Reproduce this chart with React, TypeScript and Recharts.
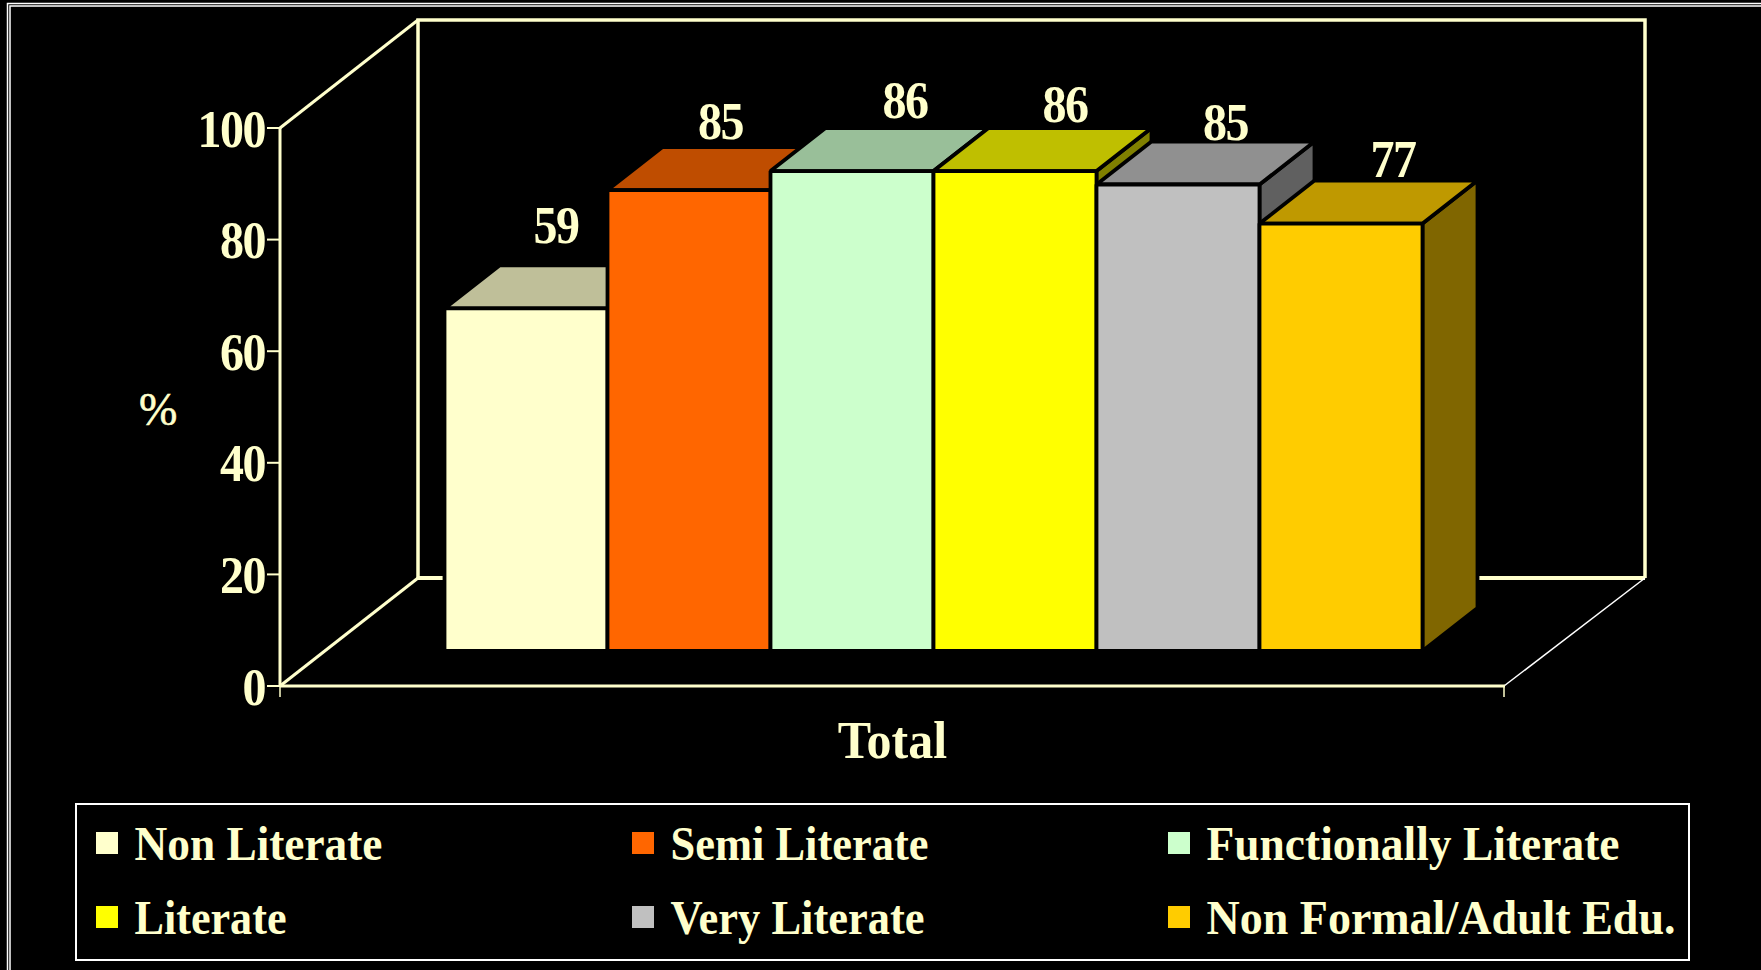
import React from 'react';
import { BarChart, Bar, XAxis, YAxis, LabelList } from 'recharts';

const CREAM = '#FFFFCC';
const FONT = '"Liberation Serif", serif';

const categories = ['Total'];
const seriesNames = ['Non Literate', 'Semi Literate', 'Functionally Literate', 'Literate', 'Very Literate', 'Non Formal/Adult Edu.'];
// bar heights as drawn in the picture (they don't quite agree with the printed labels)
const barHeights = [61.4, 82.6, 86, 86, 83.6, 76.6];
const printedLabels = [59, 85, 86, 86, 85, 77];
const yTicks = [0, 20, 40, 60, 80, 100];

const frontColors = ['#FFFFCC', '#FF6600', '#CCFFCC', '#FFFF00', '#C0C0C0', '#FFCC00'];
const topColors = ['#BFBF99', '#BF4D00', '#99BF99', '#BFBF00', '#909090', '#BF9900'];
const sideColors = ['#808066', '#803300', '#668066', '#808000', '#606060', '#806600'];

// label placement relative to the bar's front top edge, the original has them hand-moved
const labelShiftX = [30, 31.5, 53, 50, 47.5, 52];
const labelShiftY = [-65, -51, -53, -49, -45, -47];
// the legend text in the original is not set at one even width
const legendTextWidths = [248, 258, 413, 152, 254, 469];

const rows = categories.map((category) => {
    const row: Record<string, string | number> = { category };
    seriesNames.forEach((name, i) => {
        row[name] = barHeights[i];
        row[`${name} label`] = printedLabels[i];
    });
    return row;
});

// oblique box depth
const depthX = 55;
const depthY = 43;
// how far the bars sit behind the front plane of the axes
const insetX = 41;
const insetY = 35;

const Bar3D = (props: any) => {
    const { x, y, width, height, seriesIndex: i } = props;
    const left = x + insetX;
    const right = left + width;
    const top = y - insetY;
    const bottom = top + height;
    return (
        <g stroke="#000" strokeWidth={3.8} strokeLinejoin="bevel">
            <path d={`M${right},${top} L${right + depthX},${top - depthY} L${right + depthX},${bottom - depthY} L${right},${bottom} Z`} fill={sideColors[i]} />
            <path d={`M${left},${top} L${left + depthX},${top - depthY} L${right + depthX},${top - depthY} L${right},${top} Z`} fill={topColors[i]} />
            <rect x={left} y={top} width={width} height={height} fill={frontColors[i]} />
        </g>
    );
};

const BarValue = (props: any) => {
    const { x, y, width, value, seriesIndex: i } = props;
    return (
        <g transform={`translate(${x + insetX + width / 2 + labelShiftX[i]},${y - insetY + labelShiftY[i]}) scale(1,1.08)`}>
            <text textAnchor="middle" fontFamily={FONT} fontWeight="bold" fontSize={48} letterSpacing={-1.5} fill={CREAM}>
                {value}
            </text>
        </g>
    );
};

const YTick = ({ x, y, payload }: any) => (
    <g transform={`translate(${x},${y + 18.5}) scale(1,1.08)`}>
        <text textAnchor="end" fontFamily={FONT} fontWeight="bold" fontSize={48} letterSpacing={-1.5} fill={CREAM}>
            {payload.value}
        </text>
    </g>
);

const XTick = ({ x, y, payload }: any) => (
    <g transform={`translate(${x},${y + 64}) scale(1,1.05)`}>
        <text textAnchor="middle" fontFamily={FONT} fontWeight="bold" fontSize={50} fill={CREAM}>
            {payload.value}
        </text>
    </g>
);

// the walls and floor behind the bars
const Walls = () => (
    <g fill="none" stroke={CREAM}>
        <path d="M418,578 L418,20 L1645,20 L1645,578" strokeWidth={3.5} />
        <path d="M418,578 L1645,578" strokeWidth={4} />
        <path d="M280,128 L418,20" strokeWidth={3} />
        <path d="M280,686 L418,578" strokeWidth={3} />
        <path d="M1504,686 L1645,578" strokeWidth={1.5} stroke="#FFFFFF" />
        <path d="M280,686 L280,697 M1504,686 L1504,697" strokeWidth={1.5} />
    </g>
);

const legendCols = [96, 632, 1168];
const legendRows = [832, 906];

const LegendBox = () => (
    <g>
        <rect x={76} y={804} width={1613} height={156} fill="none" stroke="#fff" strokeWidth={2} />
        {seriesNames.map((name, i) => {
            const cx = legendCols[i % 3];
            const cy = legendRows[Math.floor(i / 3)];
            return (
                <g key={name}>
                    <rect x={cx} y={cy} width={22} height={22} fill={frontColors[i]} />
                    <g transform={`translate(${cx + 38.5},${cy + 28}) scale(1,1.05)`}>
                        <text textLength={legendTextWidths[i]} lengthAdjust="spacingAndGlyphs" fontFamily={FONT} fontWeight="bold" fontSize={45.5} fill={CREAM}>{name}</text>
                    </g>
                </g>
            );
        })}
    </g>
);

export default function App() {
    return (
        <div style={{ position: 'absolute', left: 0, top: 0, width: 1761, height: 970, background: '#000', overflow: 'hidden' }}>
            <style>{'body{margin:0;background:#000}'}</style>
            <svg width={1761} height={970} style={{ position: 'absolute', left: 0, top: 0 }}>
                <path d="M7.5,970 L7.5,3.5 L1761,3.5 M10,970 L10,6 L1761,6" fill="none" stroke="#fff" strokeWidth={1.5} />
            </svg>
            <div style={{ position: 'absolute', left: 0, top: 0 }}>
                <BarChart
                    width={1761}
                    height={970}
                    data={rows}
                    margin={{ top: 128, right: 256, bottom: 0, left: 0 }}
                    barCategoryGap={123.5}
                    barGap={0}
                >
                    <Walls />
                    <XAxis
                        dataKey="category"
                        axisLine={{ stroke: CREAM, strokeWidth: 3 }}
                        tickLine={false}
                        height={284}
                        tick={<XTick />}
                    />
                    <YAxis
                        width={280}
                        domain={[0, 100]}
                        ticks={yTicks}
                        interval={0}
                        axisLine={{ stroke: CREAM, strokeWidth: 3 }}
                        tickLine={{ stroke: CREAM, strokeWidth: 2 }}
                        tickSize={13}
                        tickMargin={2}
                        tick={<YTick />}
                        label={{ value: '%', position: 'insideLeft', offset: 139, dy: 2, fontFamily: FONT, fontSize: 46, fill: CREAM, stroke: CREAM, strokeWidth: 0.6 }}
                    />
                    {seriesNames.map((name, i) => (
                        <Bar key={name} dataKey={name} isAnimationActive={false} shape={(p: any) => <Bar3D {...p} seriesIndex={i} />}>
                            <LabelList dataKey={`${name} label`} content={(p: any) => <BarValue {...p} seriesIndex={i} />} />
                        </Bar>
                    ))}
                    <LegendBox />
                </BarChart>
            </div>
        </div>
    );
}
